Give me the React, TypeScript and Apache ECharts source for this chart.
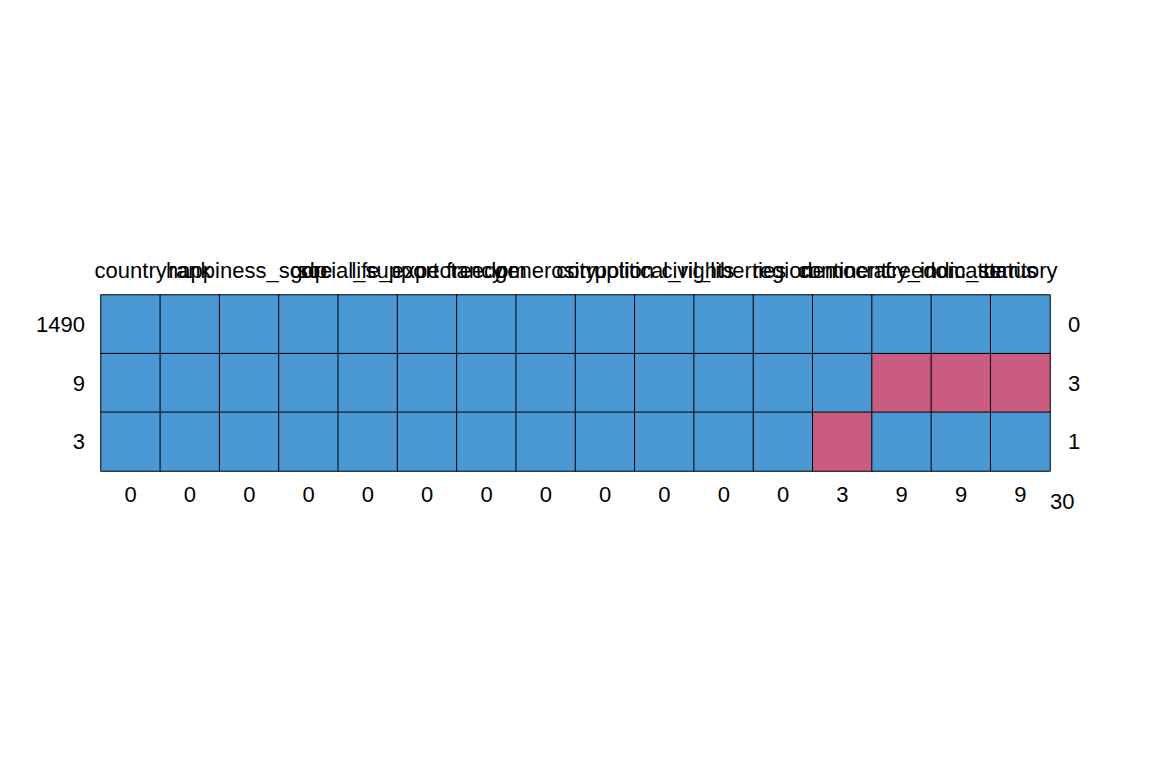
import React, { useEffect, useRef } from "react";
import * as echarts from "echarts";

const columns = ["country","rank","happiness_score","gdp","social_support","life_expectancy","freedom","generosity","corruption","political_rights","civil_liberties","region","continent","democracy_indicator","freedom_status","territory"];
const rowCounts = ["1490","9","3"];
const rowMissing = ["0","3","1"];
const colMissing = ["0","0","0","0","0","0","0","0","0","0","0","0","3","9","9","9"];
const totalMissing = "30";
// 1 = observed, 0 = missing
const patterns = [
  [1,1,1,1,1,1,1,1,1,1,1,1,1,1,1,1],
  [1,1,1,1,1,1,1,1,1,1,1,1,1,0,0,0],
  [1,1,1,1,1,1,1,1,1,1,1,1,0,1,1,1],
];

export default function App() {
  const ref = useRef<HTMLDivElement>(null);
  useEffect(() => {
    const chart = echarts.init(ref.current!, null, { renderer: "svg" });
    const data: any[] = [];
    patterns.forEach((row, r) => row.forEach((v, c) => {
      data.push([c, r, v]);
    }));
    const font = { fontFamily: "Liberation Sans", fontSize: 22, color: "#000" };
    chart.setOption({
      animation: false,
      visualMap: {
        type: "piecewise", show: false, dimension: 2,
        pieces: [{ value: 0, color: "#C95C80" }, { value: 1, color: "#4A98D4" }],
      },
      grid: { left: 93, right: 94, top: 287, bottom: 289 },
      xAxis: [
        { type: "category", data: columns, position: "top", axisLine: { show: false }, axisTick: { show: false }, splitLine: { show: false }, axisLabel: { ...font, interval: 0, margin: 14 } },
        { type: "category", data: colMissing, position: "bottom", axisLine: { show: false }, axisTick: { show: false }, splitLine: { show: false }, axisLabel: { ...font, interval: 0, margin: 12 } },
      ],
      yAxis: [
        { type: "category", data: rowCounts, inverse: true, axisLine: { show: false }, axisTick: { show: false }, splitLine: { show: false }, axisLabel: { ...font, margin: 16 } },
        { type: "category", data: rowMissing, inverse: true, position: "right", axisLine: { show: false }, axisTick: { show: false }, splitLine: { show: false }, axisLabel: { ...font, margin: 18, align: "left" } },
      ],
      series: [{ type: "heatmap", data, itemStyle: { borderColor: "#000", borderWidth: 1 } }],
      graphic: [{ type: "text", left: 1042, top: 482, style: { text: totalMissing, font: "22px Liberation Sans", fill: "#000" } }],
    });
    return () => chart.dispose();
  }, []);
  return <div ref={ref} style={{ width: 1136, height: 752 }} />;
}
